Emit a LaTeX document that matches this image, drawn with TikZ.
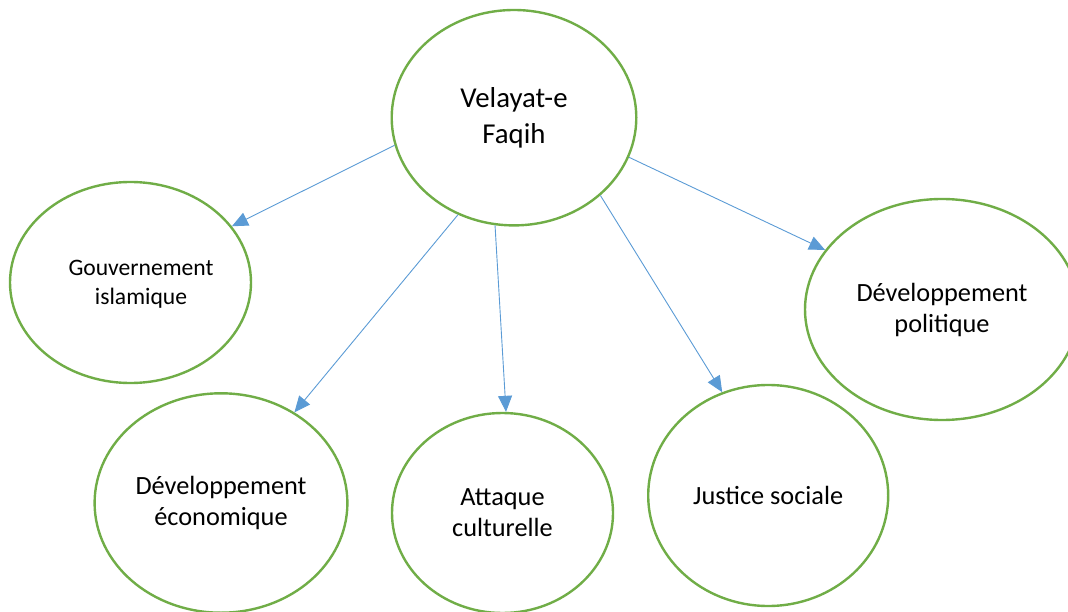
\documentclass[tikz,border=0pt]{standalone}
\usepackage{fontspec}
\setmainfont{Carlito}
\usetikzlibrary{arrows.meta,shapes.geometric}
\definecolor{bubblegreen}{HTML}{70AD47}
\definecolor{linkblue}{HTML}{5B9BD5}
\newcommand{\topfont}{\fontsize{28.8}{36}\selectfont}
\newcommand{\leaffont}{\fontsize{26.3}{31}\selectfont}
\newcommand{\smallfont}{\fontsize{23.6}{29}\selectfont}

\begin{document}
\begin{tikzpicture}
			[x=1pt,y=-1pt,
			bubble/.style={draw=bubblegreen,line width=2.4pt,ellipse,inner sep=0pt,align=center,font=\leaffont},
			link/.style={draw=linkblue,line width=0.9pt,-{Triangle[length=16pt,width=14pt]}}]
			\useasboundingbox (0,0) rectangle (1068,612);
			% centre
			\node[bubble,font=\topfont,minimum width=244.6pt,minimum height=215.4pt] (faqih) at (514,117.7) {Velayat-e\\Faqih};
			% branches
			\node[bubble,minimum width=241pt,minimum height=201pt,
				label={[font=\smallfont,align=center,xshift=10.5pt,yshift=-2pt]center:Gouvernement\\islamique}] (gouv) at (130.5,282.5) {};
			\node[bubble,minimum width=252.8pt,minimum height=219.4pt] (eco) at (221,503) {Développement\\économique};
			\node[bubble,minimum width=221pt,minimum height=200pt] (culture) at (502.5,513) {Attaque\\culturelle};
			\node[bubble,minimum width=240pt,minimum height=221pt] (justice) at (768.2,495.5) {Justice sociale};
			\node[bubble,minimum width=274pt,minimum height=221pt] (politique) at (942,309.5) {Développement\\politique};
			% arrows
			\draw[link] (faqih.193.6) -- (gouv.29.1);
			\draw[link] (faqih.240.2) -- (eco.51.7);
			\draw[link] (faqih.260.4) -- (culture.88.1);
			\draw[link] (faqih.318) -- (justice.114.8);
			\draw[link] (faqih.341.5) -- (politique.153);
		\end{tikzpicture}
\end{document}
